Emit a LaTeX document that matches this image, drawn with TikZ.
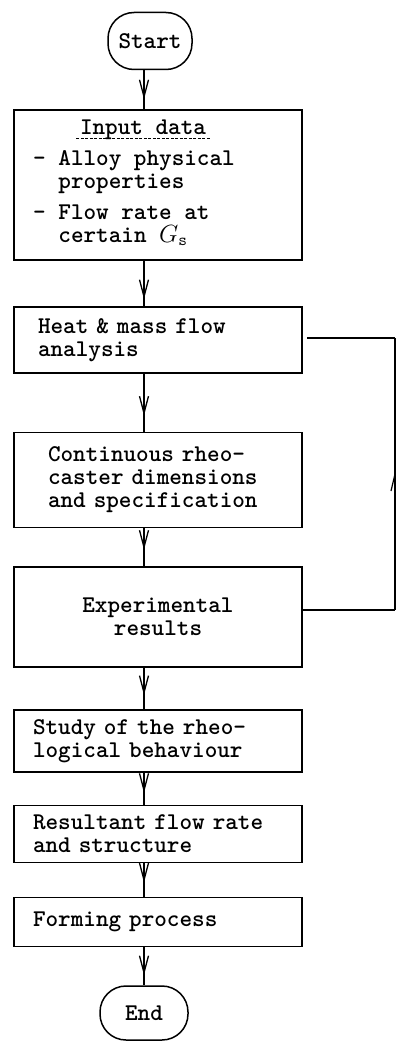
\documentclass[tikz,border=0pt]{standalone}
\usepackage{fontspec}
\usetikzlibrary{arrows.meta}
\begin{document}
\begin{tikzpicture}[x=1pt,y=-1pt,
  every node/.style={font=\fontsize{24}{23}\selectfont\ttfamily\bfseries},
  box/.style={draw,line width=1.5pt,minimum width=288pt,inner sep=0pt},
  term/.style={draw,line width=1.5pt,rounded corners=26pt,inner sep=0pt},
  conn/.style={line width=1.7pt},
  vdown/.pic={\draw[line width=1.3pt] (-4.5pt,17pt) -- (0,0) -- (4.5pt,17pt);},
  vup/.pic={\draw[line width=1.2pt] (-4pt,-17pt) -- (0,0) -- (4pt,-17pt);}
]
\useasboundingbox (0,0) rectangle (396,1041);
\coordinate (axis) at (144,0);
% terminals
\node[term,minimum width=84pt,minimum height=57pt] (start) at (150,41) {Start};
\node[term,minimum width=88pt,minimum height=54pt] (end) at (144,1013) {End};
% boxes
\node[box,minimum height=150pt] (input) at (158,185) {};
\node (inhead) at (143,130) {Input data};
\draw[line width=0.9pt,dash pattern=on 3pt off 1.5pt] ([yshift=-4pt]inhead.base west) -- ([yshift=-4pt]inhead.base east);
\node[anchor=north west,align=left,inner sep=0pt] (inlist) at (33,150)
  {- Alloy physical\\\phantom{- }properties\\[8pt]- Flow rate at\\\phantom{- }certain $G_{\mathtt{s}}$};
\node[box,minimum height=66pt,align=left,text width=240pt,inner xsep=24pt] (heat) at (158,340)
  {Heat \& mass flow\\analysis};
\node[box,minimum height=95pt,align=left,text width=220pt,inner xsep=34pt] (cont) at (158,480)
  {Continuous rheo-\\caster dimensions\\and specification};
\node[box,minimum height=100pt,align=center,text width=288pt] (exp) at (158,617)
  {Experimental\\results};
\node[box,minimum height=62pt,align=left,text width=250pt,inner xsep=19pt] (study) at (158,741)
  {Study of the rheo-\\logical behaviour};
\node[box,minimum height=57pt,align=left,text width=250pt,inner xsep=19pt] (res) at (158,834)
  {Resultant flow rate\\and structure};
\node[box,minimum height=49pt,align=left,text width=250pt,inner xsep=19pt] (form) at (158,922)
  {Forming process};
% connectors
\draw[conn] (start.south -| axis) -- (input.north -| axis) pic[pos=0.68]{vdown};
\draw[conn] (input.south -| axis) -- (heat.north -| axis) pic[pos=0.79]{vdown};
\draw[conn] (heat.south -| axis) -- (cont.north -| axis) pic[pos=0.68]{vdown};
\draw[conn] (cont.south -| axis) -- (exp.north -| axis) pic[pos=0.5]{vdown};
\draw[conn] (exp.south -| axis) -- (study.north -| axis) pic[pos=0.6]{vdown};
\draw[conn] (study.south -| axis) -- (res.north -| axis) pic[pos=0.55]{vdown};
\draw[conn] (res.south -| axis) -- (form.north -| axis) pic[pos=0.5]{vdown};
\draw[conn] (form.south -| axis) -- (end.north -| axis) pic[pos=0.67]{vdown};
% feedback loop
\coordinate (fbA) at (395,610);
\coordinate (fbB) at (395,338);
\coordinate (fbC) at (307,338);
\draw[line width=1.2pt] ([yshift=7pt]exp.east) -- (fbA);
\draw[line width=1.2pt] (fbA) -- (fbB) pic[pos=0.5]{vup};
\draw[line width=1.2pt] (fbB) -- (fbC);
\end{tikzpicture}
\end{document}
